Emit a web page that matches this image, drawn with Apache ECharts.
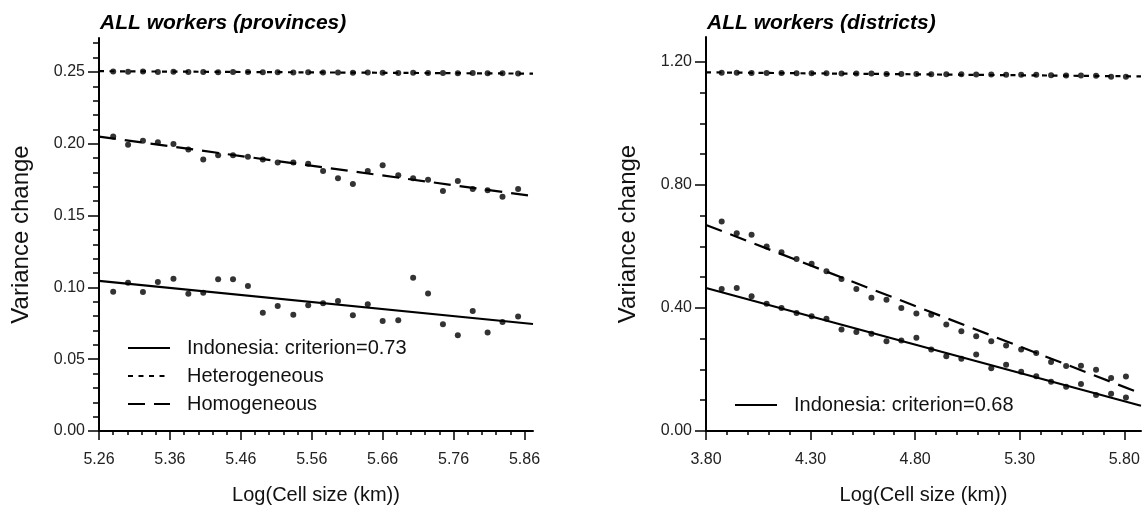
<!DOCTYPE html>
<html><head><meta charset="utf-8">
<script src="https://cdn.jsdelivr.net/npm/echarts@6/dist/echarts.min.js"></script>
<style>html,body{margin:0;padding:0;background:#fff}#c{width:1148px;height:510px}</style>
</head><body><div id="c"></div><script>
// ---------- Left panel: provinces ----------
const provX = [5.280, 5.301, 5.322, 5.343, 5.365, 5.386, 5.407, 5.428, 5.449, 5.470, 5.491, 5.512, 5.534, 5.555, 5.576, 5.597, 5.618, 5.639, 5.660, 5.682, 5.703, 5.724, 5.745, 5.766, 5.787, 5.808, 5.829, 5.851];
const provIndo = [0.0970, 0.1032, 0.0967, 0.1037, 0.1060, 0.0956, 0.0963, 0.1056, 0.1056, 0.1010, 0.0824, 0.0870, 0.0810, 0.0875, 0.0889, 0.0905, 0.0806, 0.0882, 0.0766, 0.0771, 0.1067, 0.0958, 0.0743, 0.0667, 0.0835, 0.0685, 0.0759, 0.0797];
const provHet = [0.2502, 0.2501, 0.2503, 0.2500, 0.2501, 0.2499, 0.2500, 0.2498, 0.2499, 0.2500, 0.2497, 0.2498, 0.2496, 0.2497, 0.2495, 0.2496, 0.2494, 0.2495, 0.2494, 0.2493, 0.2494, 0.2492, 0.2493, 0.2491, 0.2492, 0.2490, 0.2491, 0.2489];
const provHom = [0.2050, 0.1993, 0.2020, 0.2010, 0.1998, 0.1960, 0.1890, 0.1920, 0.1920, 0.1910, 0.1890, 0.1870, 0.1870, 0.1860, 0.1810, 0.1760, 0.1720, 0.1810, 0.1850, 0.1780, 0.1760, 0.1750, 0.1670, 0.1740, 0.1685, 0.1676, 0.1630, 0.1685];
const provFitX = [5.26, 5.872];
const provFitIndo = [0.1045, 0.0745];
const provFitHet = [0.2505, 0.2488];
const provFitHom = [0.2050, 0.1635];
const provXTicks = [5.26, 5.36, 5.46, 5.56, 5.66, 5.76, 5.86];
const provYTicks = [0.00, 0.05, 0.10, 0.15, 0.20, 0.25];

// ---------- Right panel: districts ----------
const distX = [3.875, 3.947, 4.018, 4.090, 4.161, 4.233, 4.305, 4.376, 4.448, 4.519, 4.591, 4.663, 4.734, 4.806, 4.877, 4.949, 5.021, 5.092, 5.164, 5.235, 5.307, 5.379, 5.450, 5.522, 5.593, 5.665, 5.737, 5.808];
const distIndo = [0.462, 0.465, 0.438, 0.414, 0.400, 0.384, 0.373, 0.365, 0.330, 0.322, 0.316, 0.292, 0.294, 0.303, 0.265, 0.243, 0.235, 0.249, 0.204, 0.215, 0.193, 0.178, 0.160, 0.144, 0.153, 0.117, 0.121, 0.109];
const distHet = [1.165, 1.165, 1.164, 1.164, 1.164, 1.163, 1.163, 1.163, 1.162, 1.162, 1.162, 1.161, 1.161, 1.161, 1.160, 1.160, 1.160, 1.159, 1.159, 1.158, 1.158, 1.158, 1.157, 1.156, 1.156, 1.155, 1.152, 1.152];
const distHom = [0.681, 0.643, 0.638, 0.600, 0.581, 0.559, 0.544, 0.519, 0.494, 0.462, 0.433, 0.427, 0.400, 0.382, 0.378, 0.346, 0.324, 0.308, 0.292, 0.278, 0.265, 0.254, 0.224, 0.211, 0.212, 0.199, 0.172, 0.177];
const distFitX = [3.80, 5.88];
const distFitIndo = [0.465, 0.082];
const distFitHet = [1.166, 1.153];
const distFitHom = [0.670, 0.122];
const distXTicks = [3.80, 4.30, 4.80, 5.30, 5.80];
const distYTicks = [0.00, 0.40, 0.80, 1.20];

const titles = ['ALL workers (provinces)', 'ALL workers (districts)'];
const nameProvIndo = 'Indonesia: criterion=0.73';
const nameDistIndo = 'Indonesia: criterion=0.68';
const nameHet = 'Heterogeneous';
const nameHom = 'Homogeneous';
const xName = 'Log(Cell size (km))';
const yName = 'Variance change';

// ---------- helpers ----------
const NARROW = "'Liberation Sans Narrow', 'Arial Narrow', 'Liberation Sans', sans-serif";
const REG = "'Liberation Sans', Arial, sans-serif";
function minorTicks(lo, hi, step, majors) {
  const out = [];
  for (let i = 0; ; i++) {
    const v = +(lo + i * step).toFixed(4);
    if (v > hi + 1e-9) break;
    if (!majors.some(m => Math.abs(m - v) < 1e-6)) out.push(v);
  }
  return out;
}
const pairs = (xs, ys) => xs.map((x, i) => [x, ys[i]]);

const G = [
  {left: 99, top: 38, width: 434, height: 394, xMin: 5.26, xMax: 5.872, yMin: 0, yMax: 0.2736,
   xT: provXTicks, yT: provYTicks, xm: minorTicks(5.26, 5.872, 0.02, provXTicks), ym: minorTicks(0, 0.2736, 0.01, provYTicks)},
  {left: 706, top: 37, width: 435, height: 395, xMin: 3.80, xMax: 5.88, yMin: 0, yMax: 1.281,
   xT: distXTicks, yT: distYTicks, xm: minorTicks(3.80, 5.88, 0.1, distXTicks), ym: minorTicks(0, 1.281, 0.1, distYTicks)}
];

const xAxes = [], yAxes = [];
G.forEach((g, gi) => {
  xAxes.push({type: 'value', gridIndex: gi, min: g.xMin, max: g.xMax, position: 'bottom',
    axisLine: {show: true, onZero: false, lineStyle: {color: '#000', width: 2}},
    axisTick: {show: true, customValues: g.xT, length: 9, lineStyle: {color: '#000', width: 1.5}},
    axisLabel: {customValues: g.xT, formatter: v => (+v).toFixed(2), margin: 21, fontFamily: NARROW, fontSize: 16, color: '#222'},
    splitLine: {show: false},
    name: xName, nameLocation: 'middle', nameGap: 54,
    nameTextStyle: {fontFamily: NARROW, fontSize: 20, color: '#111'}});
  xAxes.push({type: 'value', gridIndex: gi, min: g.xMin, max: g.xMax, position: 'bottom',
    axisLine: {show: false, onZero: false},
    axisTick: {show: true, customValues: g.xm, length: 4, lineStyle: {color: '#000', width: 1.5}},
    axisLabel: {show: false}, splitLine: {show: false}});
  yAxes.push({type: 'value', gridIndex: gi, min: g.yMin, max: g.yMax, position: 'left',
    axisLine: {show: true, onZero: false, lineStyle: {color: '#000', width: 2}},
    axisTick: {show: true, customValues: g.yT, length: 11, lineStyle: {color: '#000', width: 1.5}},
    axisLabel: {customValues: g.yT, formatter: v => (+v).toFixed(2), margin: 14, fontFamily: NARROW, fontSize: 16, color: '#222'},
    splitLine: {show: false},
    name: yName, nameLocation: 'middle', nameGap: 66,
    nameTextStyle: {fontFamily: REG, fontSize: 24, color: '#111'}});
  yAxes.push({type: 'value', gridIndex: gi, min: g.yMin, max: g.yMax, position: 'left',
    axisLine: {show: false, onZero: false},
    axisTick: {show: true, customValues: g.ym, length: 6, lineStyle: {color: '#000', width: 1.5}},
    axisLabel: {show: false}, splitLine: {show: false}});
});

function fitLine(name, gi, xs, ys, dash) {
  return {type: 'line', name, xAxisIndex: gi * 2, yAxisIndex: gi * 2, data: pairs(xs, ys),
    symbol: 'none', color: '#000', lineStyle: {color: '#000', width: 2.2, type: dash}, z: 3, silent: true};
}
function dots(name, gi, xs, ys) {
  return {type: 'scatter', name, xAxisIndex: gi * 2, yAxisIndex: gi * 2, data: pairs(xs, ys),
    symbol: 'circle', symbolSize: 6, itemStyle: {color: '#000'}, z: 4, silent: true};
}

const series = [
  fitLine(nameProvIndo, 0, provFitX, provFitIndo, 'solid'),
  fitLine(nameHet, 0, provFitX, provFitHet, [5, 5.5]),
  fitLine(nameHom, 0, provFitX, provFitHom, [17, 9]),
  dots('prov-indo', 0, provX, provIndo),
  dots('prov-het', 0, provX, provHet),
  dots('prov-hom', 0, provX, provHom),
  fitLine(nameDistIndo, 1, distFitX, distFitIndo, 'solid'),
  fitLine(nameHet, 1, distFitX, distFitHet, [5, 5.5]),
  fitLine(nameHom, 1, distFitX, distFitHom, [17, 9]),
  dots('dist-indo', 1, distX, distIndo),
  dots('dist-het', 1, distX, distHet),
  dots('dist-hom', 1, distX, distHom)
];

const legendCommon = {orient: 'vertical', itemWidth: 42, itemHeight: 2, itemGap: 4, selectedMode: false,
  itemStyle: {opacity: 0}, padding: 0,
  textStyle: {fontFamily: NARROW, fontSize: 20, color: '#111', lineHeight: 24, padding: [0, 0, 0, 12]}};

const chart = echarts.init(document.getElementById('c'), null, {renderer: 'canvas'});
chart.setOption({
  animation: false,
  backgroundColor: '#fff',
  title: titles.map((t, i) => ({text: t, left: i === 0 ? 100 : 707, top: 13, padding: 0,
    textStyle: {fontFamily: NARROW, fontSize: 21, fontWeight: 'bold', fontStyle: 'italic', color: '#000'}})),
  legend: [
    Object.assign({}, legendCommon, {data: [nameProvIndo, nameHet, nameHom], left: 127, top: 336}),
    Object.assign({}, legendCommon, {data: [nameDistIndo], left: 734, top: 393})
  ],
  grid: G.map(g => ({left: g.left, top: g.top, width: g.width, height: g.height})),
  xAxis: xAxes,
  yAxis: yAxes,
  series
});
</script></body></html>
